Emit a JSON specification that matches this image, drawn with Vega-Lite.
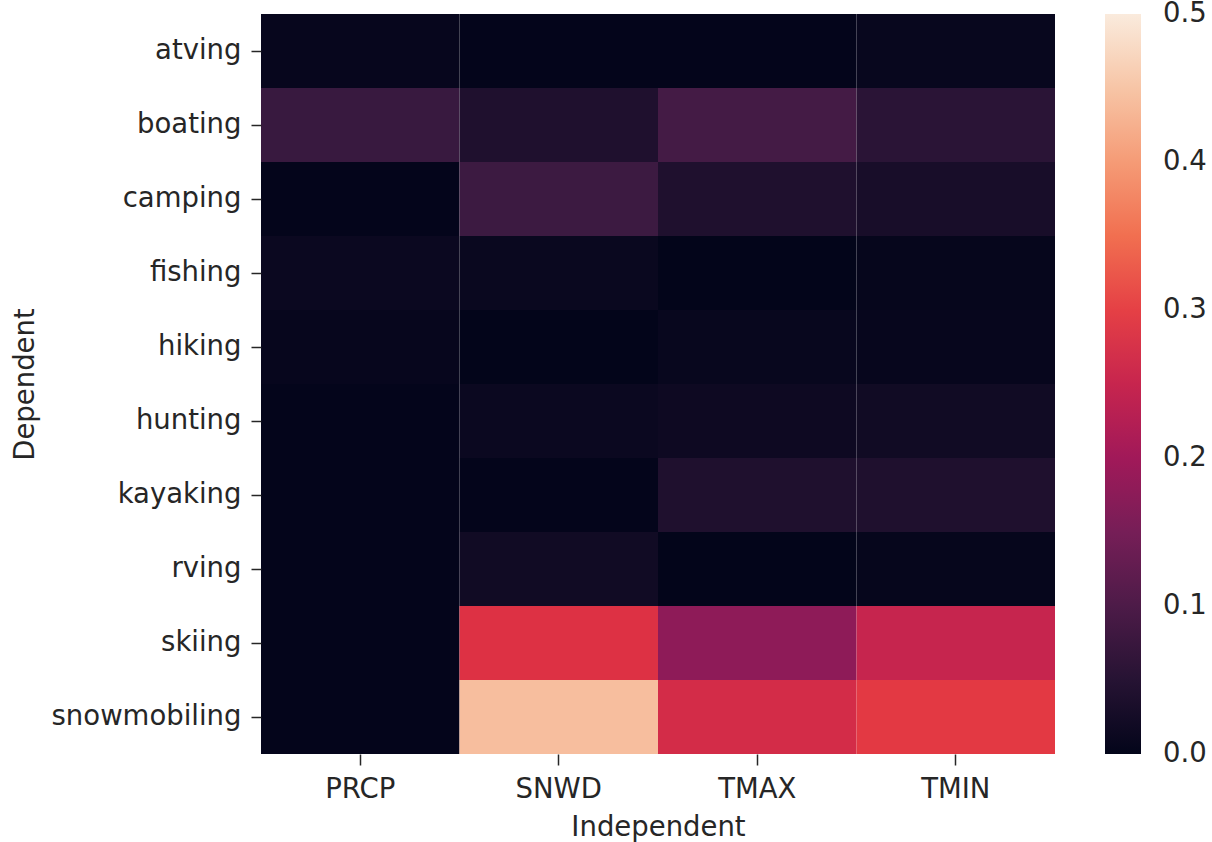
{
  "$schema": "https://vega.github.io/schema/vega-lite/v6.json",
  "width": 794,
  "height": 740,
  "autosize": {"type": "none"},
  "padding": {"left": 261, "top": 14, "right": 157, "bottom": 88},
  "background": "white",
  "config": {
    "font": "DejaVu Sans",
    "view": {"stroke": null}
  },
  "data": {
    "values": [
      {"dep": "atving", "ind": "PRCP", "v": 0.005},
      {"dep": "atving", "ind": "SNWD", "v": 0.001},
      {"dep": "atving", "ind": "TMAX", "v": 0.001},
      {"dep": "atving", "ind": "TMIN", "v": 0.007},
      {"dep": "boating", "ind": "PRCP", "v": 0.075},
      {"dep": "boating", "ind": "SNWD", "v": 0.04},
      {"dep": "boating", "ind": "TMAX", "v": 0.09},
      {"dep": "boating", "ind": "TMIN", "v": 0.055},
      {"dep": "camping", "ind": "PRCP", "v": 0.001},
      {"dep": "camping", "ind": "SNWD", "v": 0.08},
      {"dep": "camping", "ind": "TMAX", "v": 0.04},
      {"dep": "camping", "ind": "TMIN", "v": 0.03},
      {"dep": "fishing", "ind": "PRCP", "v": 0.011},
      {"dep": "fishing", "ind": "SNWD", "v": 0.01},
      {"dep": "fishing", "ind": "TMAX", "v": 0.0},
      {"dep": "fishing", "ind": "TMIN", "v": 0.004},
      {"dep": "hiking", "ind": "PRCP", "v": 0.005},
      {"dep": "hiking", "ind": "SNWD", "v": 0.0},
      {"dep": "hiking", "ind": "TMAX", "v": 0.007},
      {"dep": "hiking", "ind": "TMIN", "v": 0.005},
      {"dep": "hunting", "ind": "PRCP", "v": 0.001},
      {"dep": "hunting", "ind": "SNWD", "v": 0.012},
      {"dep": "hunting", "ind": "TMAX", "v": 0.016},
      {"dep": "hunting", "ind": "TMIN", "v": 0.02},
      {"dep": "kayaking", "ind": "PRCP", "v": 0.001},
      {"dep": "kayaking", "ind": "SNWD", "v": 0.001},
      {"dep": "kayaking", "ind": "TMAX", "v": 0.04},
      {"dep": "kayaking", "ind": "TMIN", "v": 0.04},
      {"dep": "rving", "ind": "PRCP", "v": 0.001},
      {"dep": "rving", "ind": "SNWD", "v": 0.02},
      {"dep": "rving", "ind": "TMAX", "v": 0.0},
      {"dep": "rving", "ind": "TMIN", "v": 0.004},
      {"dep": "skiing", "ind": "PRCP", "v": 0.001},
      {"dep": "skiing", "ind": "SNWD", "v": 0.28},
      {"dep": "skiing", "ind": "TMAX", "v": 0.178},
      {"dep": "skiing", "ind": "TMIN", "v": 0.249},
      {"dep": "snowmobiling", "ind": "PRCP", "v": 0.001},
      {"dep": "snowmobiling", "ind": "SNWD", "v": 0.442},
      {"dep": "snowmobiling", "ind": "TMAX", "v": 0.267},
      {"dep": "snowmobiling", "ind": "TMIN", "v": 0.292}
    ]
  },
  "mark": {"type": "rect"},
  "encoding": {
    "x": {
      "field": "ind",
      "type": "nominal",
      "sort": ["PRCP", "SNWD", "TMAX", "TMIN"],
      "scale": {"paddingInner": 0, "paddingOuter": 0},
      "axis": {
        "title": "Independent",
        "labelAngle": 0,
        "labelFontSize": 27.5,
        "titleFontSize": 27.5,
        "titleFontWeight": "normal",
        "labelColor": "#262626",
        "titleColor": "#262626",
        "tickSize": 11,
        "tickWidth": 1.5,
        "tickColor": "#262626",
        "labelPadding": 10,
        "titlePadding": 11,
        "domain": false
      }
    },
    "y": {
      "field": "dep",
      "type": "nominal",
      "sort": ["atving", "boating", "camping", "fishing", "hiking", "hunting", "kayaking", "rving", "skiing", "snowmobiling"],
      "scale": {"paddingInner": 0, "paddingOuter": 0},
      "axis": {
        "title": "Dependent",
        "labelFontSize": 27.5,
        "labelLimit": 0,
        "titleFontSize": 27.5,
        "titleFontWeight": "normal",
        "labelColor": "#262626",
        "titleColor": "#262626",
        "titleX": -236,
        "titleBaseline": "middle",
        "tickSize": 10,
        "tickWidth": 1.5,
        "tickColor": "#262626",
        "labelPadding": 10,
        "domain": false
      }
    },
    "color": {
      "field": "v",
      "type": "quantitative",
      "scale": {
        "domain": [0, 0.5],
        "range": ["#03051A", "#35193e", "#701f57", "#ad1759", "#e13342", "#f37651", "#f6b48f", "#faebdd"],
        "interpolate": "rgb"
      },
      "legend": {
        "title": null,
        "orient": "right",
        "offset": 50,
        "gradientLength": 740,
        "gradientThickness": 36,
        "gradientStrokeWidth": 0,
        "values": [0, 0.1, 0.2, 0.3, 0.4, 0.5],
        "format": ".1f",
        "labelFontSize": 27.5,
        "labelColor": "#262626",
        "labelOffset": 22,
        "labelBaseline": "middle",
        "labelOverlap": false,
        "encode": {
          "labels": {
            "update": {
              "baseline": {"value": "middle"}
            }
          }
        }
      }
    }
  }
}
